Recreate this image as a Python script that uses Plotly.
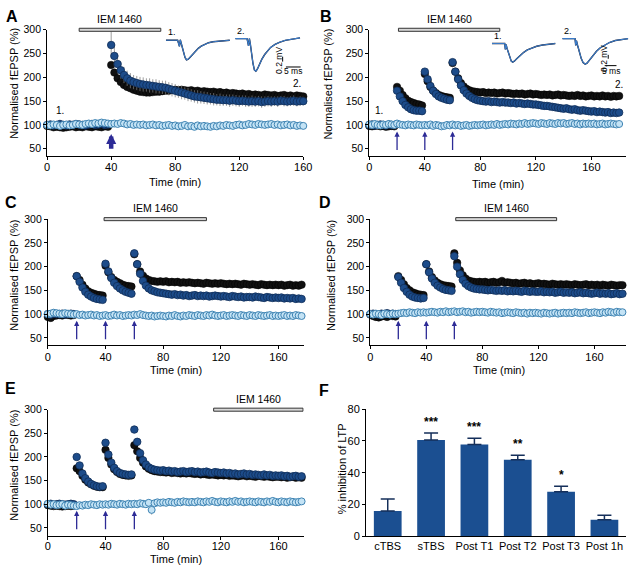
import plotly.graph_objects as go

W, H = 640, 574
FONT = "Liberation Sans, Arial, Helvetica, sans-serif"

# ------------------------------------------------------------------ data
T_A = list(range(0, 161, 2))    # 81 points, panel A
T_BD = list(range(0, 181, 2))   # 91 points, panels B, D
T_CE = list(range(0, 179, 2))   # 90 points, panels C, E

A_BLACK = [98, 97, 95, 96, 95, 94, 95, 96, 97, 95, 96, 95, 97, 96, 95, 97, 96, 95, 97, 96,
           226, 210, 198, 190, 184, 180, 177, 174, 172, 170,
           169, 168, 168, 169, 170, 170, 171, 172, 172, 173,
           174, 173, 174, 173, 172, 173, 171, 172, 170, 171,
           170, 169, 170, 168, 169, 167, 168, 166, 167, 166,
           165, 166, 164, 165, 163, 164, 163, 162, 164, 163,
           162, 163, 161, 162, 163, 161, 162, 160, 162, 161,
           160]
A_BLUE = [100, 101, 99, 100, 102, 100, 99, 101, 100, 102, 101, 100, 99, 101, 102, 100, 101, 103, 100, 101,
          268, 245, 228, 215, 205, 198, 193, 190, 188, 186,
          185, 184, 183, 182, 181, 180, 179, 178, 176, 174,
          172, 170, 168, 166, 164, 162, 160, 159, 158, 157,
          156, 155, 154, 153, 153, 152, 152, 151, 152, 151,
          150, 151, 150, 149, 150, 149, 150, 148, 149, 150,
          149, 150, 149, 151, 150, 149, 150, 151, 149, 150,
          150]
A_BLUE_SEM = [3, 3, 3, 3, 3, 3, 3, 3, 3, 3, 3, 3, 3, 3, 3, 3, 3, 3, 3, 3,
              28, 24, 20, 18, 17, 16, 16, 15, 15, 15,
              15, 14, 15, 14, 15, 14, 14, 15, 14, 14,
              14, 13, 14, 13, 14, 13, 13, 14, 13, 13,
              13, 12, 13, 12, 13, 12, 12, 13, 12, 12,
              12, 11, 12, 11, 12, 11, 11, 12, 11, 11,
              11, 10, 11, 10, 11, 10, 10, 11, 10, 10,
              10]
A_LIGHT = [100, 99, 101, 100, 98, 100, 101, 99, 100, 102,
           101, 100, 102, 103, 102, 104, 103, 105, 104, 103,
           102, 103, 102, 104, 103, 101, 102, 100, 101, 100,
           101, 99, 100, 101, 99, 100, 98, 99, 100, 98,
           99, 97, 98, 100, 97, 98, 96, 99, 97, 98,
           97, 96, 98, 97, 99, 98, 100, 99, 98, 100,
           101, 99, 100, 102, 101, 100, 102, 101, 100, 101,
           102, 100, 101, 99, 100, 101, 99, 100, 98, 99,
           98]

B_BLACK = [98, 97, 98, 99, 97, 98, 96, 97, 98, 97,
           180, 172, 163, 156, 151, 148, 146, 144, 143, 141,
           207, 192, 180, 172, 167, 163, 161, 159, 158, 157,
           230, 212, 198, 188, 181, 176, 173, 171, 170, 169,
           168, 169, 167, 168, 167, 168, 166, 167, 168, 166,
           167, 166, 165, 166, 165, 166, 164, 165, 166, 164,
           165, 164, 163, 164, 163, 164, 162, 163, 164, 162,
           163, 162, 161, 162, 161, 163, 161, 162, 160, 161,
           162, 160, 161, 160, 162, 160, 161, 159, 161, 160,
           161]
B_BLUE = [100, 101, 99, 100, 101, 100, 99, 101, 100, 100,
          172, 160, 150, 142, 137, 133, 131, 130, 130, 129,
          212, 196, 182, 172, 165, 160, 157, 155, 153, 152,
          232, 212, 196, 183, 173, 166, 161, 157, 154, 152,
          151, 150, 149, 150, 148, 149, 148, 147, 148, 147,
          147, 146, 147, 145, 146, 145, 144, 145, 144, 143,
          143, 142, 141, 140, 140, 139, 138, 137, 136, 135,
          134, 135, 133, 132, 133, 131, 130, 131, 130, 129,
          128, 129, 127, 128, 127, 126, 127, 125, 126, 125,
          126]
B_LIGHT = [101, 100, 102, 100, 99, 101, 100, 102, 101, 100,
           103, 101, 100, 99, 101, 100, 99, 101, 100, 99,
           100, 99, 101, 98, 100, 99, 97, 98, 100, 99,
           101, 99, 100, 98, 99, 100, 98, 99, 100, 99,
           100, 101, 99, 100, 101, 100, 102, 100, 101, 102,
           101, 103, 102, 101, 103, 102, 104, 102, 103, 104,
           103, 102, 104, 103, 102, 104, 103, 102, 104, 103,
           104, 102, 103, 104, 102, 103, 101, 103, 102, 103,
           102, 103, 101, 102, 103, 101, 102, 103, 102, 101,
           102]

C_BLACK = [94, 92, 96, 97, 98, 97, 99, 98, 97, 98,
           180, 172, 162, 154, 148, 145, 143, 141, 140, 139,
           202, 188, 178, 172, 168, 165, 162, 160, 159, 158,
           226, 205, 190, 181, 175, 172, 170, 169, 168, 169,
           168, 169, 167, 168, 167, 168, 166, 167, 166, 167,
           166, 165, 166, 165, 164, 166, 165, 164, 165, 164,
           165, 164, 163, 164, 163, 164, 163, 162, 164, 163,
           162, 163, 162, 161, 163, 162, 161, 162, 161, 162,
           161, 162, 160, 161, 162, 160, 161, 160, 162, 161]
C_BLUE = [100, 99, 101, 100, 100, 101, 99, 100, 101, 100,
          180, 168, 156, 147, 141, 137, 134, 132, 131, 130,
          206, 190, 176, 166, 159, 154, 150, 147, 145, 143,
          228, 205, 185, 170, 160, 154, 150, 148, 146, 145,
          144, 143, 142, 141, 142, 140, 141, 139, 140, 138,
          139, 140, 138, 139, 138, 139, 137, 138, 139, 138,
          137, 138, 137, 136, 138, 137, 136, 137, 135, 136,
          136, 135, 137, 136, 135, 134, 136, 135, 134, 135,
          134, 135, 133, 134, 133, 134, 132, 133, 132, 133]
C_LIGHT = [100, 101, 103, 102, 101, 100, 102, 101, 100, 99,
           100, 98, 99, 97, 98, 99, 97, 98, 96, 97,
           98, 96, 97, 99, 97, 98, 96, 97, 98, 97,
           99, 98, 100, 98, 97, 96, 97, 95, 96, 97,
           96, 95, 97, 96, 98, 96, 95, 97, 96, 98,
           97, 96, 98, 97, 96, 98, 97, 99, 97, 96,
           97, 98, 96, 97, 98, 97, 96, 98, 97, 96,
           98, 97, 96, 98, 97, 96, 97, 98, 96, 97,
           96, 97, 98, 96, 97, 96, 98, 97, 96, 97]

D_BLACK = [99, 96, 94, 93, 95, 96, 94, 97, 96, 95,
           180, 172, 163, 155, 150, 146, 144, 142, 141, 140,
           205, 190, 178, 171, 166, 163, 161, 160, 159, 158,
           228, 208, 192, 182, 175, 171, 169, 168, 167, 168,
           167, 168, 166, 167, 168, 166, 167, 170, 166, 167,
           166, 165, 166, 164, 165, 166, 164, 165, 163, 164,
           165, 163, 164, 163, 162, 164, 163, 162, 163, 162,
           163, 162, 161, 163, 162, 161, 162, 163, 161, 162,
           161, 162, 160, 162, 161, 160, 162, 161, 160, 161,
           161]
D_BLUE = [100, 101, 100, 99, 101, 100, 102, 100, 101, 100,
          178, 166, 155, 147, 141, 137, 135, 134, 133, 134,
          205, 188, 175, 166, 160, 156, 153, 151, 150, 149,
          222, 200, 184, 172, 164, 159, 156, 154, 153, 152,
          152, 151, 150, 151, 150, 149, 150, 149, 150, 148,
          149, 148, 149, 148, 147, 149, 148, 147, 148, 147,
          147, 148, 146, 147, 146, 147, 145, 146, 147, 145,
          146, 145, 146, 144, 145, 146, 144, 145, 144, 143,
          144, 145, 143, 144, 143, 144, 142, 143, 144, 142,
          143]
D_LIGHT = [100, 99, 101, 100, 98, 101, 100, 99, 101, 100,
           101, 102, 103, 102, 104, 103, 102, 104, 103, 104,
           103, 104, 105, 104, 103, 105, 104, 106, 104, 105,
           106, 104, 105, 106, 104, 105, 103, 104, 105, 104,
           105, 104, 103, 105, 104, 103, 104, 102, 103, 104,
           103, 102, 104, 103, 102, 103, 101, 103, 102, 103,
           102, 101, 103, 102, 101, 102, 103, 101, 102, 103,
           102, 103, 102, 104, 103, 102, 103, 104, 102, 103,
           104, 103, 102, 104, 103, 105, 104, 103, 105, 104,
           104]

E_BLACK = [98, 97, 96, 97, 96, 95, 96, 97, 96, 97,
           176, 170, 160, 152, 146, 142, 139, 137, 136, 136,
           215, 198, 184, 174, 168, 164, 162, 161, 160, 161,
           225, 212, 198, 188, 180, 175, 172, 170, 169, 168,
           168, 167, 168, 166, 167, 166, 165, 166, 165, 166,
           165, 164, 165, 163, 164, 163, 162, 163, 162, 161,
           162, 161, 162, 160, 161, 160, 159, 160, 161, 159,
           160, 159, 158, 160, 159, 158, 159, 158, 157, 158,
           158, 157, 158, 156, 157, 158, 156, 157, 156, 157]
E_BLUE = [100, 101, 99, 100, 101, 100, 99, 100, 101, 100,
          200, 182, 165, 155, 148, 143, 140, 138, 137, 138,
          230, 205, 188, 177, 170, 166, 164, 163, 162, 163,
          258, 232, 208, 193, 184, 178, 175, 173, 172, 171,
          172, 170, 171, 169, 170, 168, 169, 170, 168, 169,
          170, 168, 169, 167, 168, 169, 167, 166, 168, 167,
          166, 167, 165, 166, 164, 165, 163, 164, 165, 163,
          164, 162, 163, 162, 161, 163, 161, 162, 160, 161,
          160, 161, 159, 160, 158, 159, 160, 158, 159, 158]
E_LIGHT = [101, 99, 100, 98, 99, 100, 97, 99, 98, 97,
           96, 98, 97, 99, 98, 100, 99, 98, 100, 99,
           100, 99, 101, 100, 99, 101, 100, 99, 101, 100,
           101, 100, 102, 101, 100, 103, 88, 102, 104, 103,
           104, 103, 105, 104, 103, 105, 104, 106, 105, 104,
           105, 104, 106, 105, 104, 106, 105, 107, 105, 104,
           106, 105, 104, 106, 105, 107, 105, 106, 104, 105,
           106, 105, 104, 106, 105, 104, 106, 105, 107, 105,
           104, 106, 105, 104, 106, 105, 104, 105, 106, 104]
E_LIGHT_SEM = [3, 3, 4, 3, 3, 4, 3, 3, 4, 3,
               3, 4, 3, 3, 4, 3, 3, 4, 3, 3,
               4, 3, 4, 4, 3, 4, 4, 3, 4, 4,
               4, 5, 4, 5, 4, 5, 10, 5, 6, 5,
               6, 5, 7, 6, 5, 7, 6, 8, 6, 5,
               7, 6, 8, 6, 5, 7, 6, 8, 7, 6,
               6, 7, 5, 8, 6, 7, 5, 6, 7, 6,
               7, 6, 5, 7, 6, 8, 6, 7, 5, 6,
               6, 7, 5, 6, 7, 6, 5, 7, 6, 5]

# IEM 1460 application windows (min) and TBS times (min)
IEM_A = (20, 71)
IEM_B = (21, 94)
IEM_C = (39, 110)
IEM_D = (61, 133)
IEM_E = (115, 177)
TBS_A = [40]
TBS_BE = [20, 40, 60]

# Panel F
F_CATS = ["cTBS", "sTBS", "Post T1", "Post T2", "Post T3", "Post 1h"]
F_INHIB = [16, 60.5, 57.8, 48.2, 28, 10.5]
F_SEM = [7.5, 4.5, 3.8, 2.8, 3.5, 2.7]
F_STARS = ["", "***", "***", "**", "*", ""]

# Example fEPSP traces (ms, mV relative to baseline)
A1_T = [0, 2, 4, 4.6, 4.9, 5.2, 5.6, 6.0, 6.5, 7.0, 7.5, 8.0, 9.0, 10.0, 11.0, 12.0, 13.0, 14.5, 16.0, 18.0, 20.0, 21.7]
A1_V = [0, 0, 0, -0.25, 0.02, -0.12, -0.3, -0.5, -0.7, -0.8, -0.78, -0.72, -0.58, -0.45, -0.33, -0.24, -0.17, -0.1, -0.06, -0.03, -0.01, 0.0]
A2_T = [0, 2, 4, 4.5, 4.8, 5.1, 5.5, 6.0, 6.5, 7.0, 7.5, 8.0, 9.0, 10.0, 11.0, 12.0, 13.5, 15.0, 17.0, 19.0, 22.0]
A2_V = [0, 0, 0, -0.3, 0.0, -0.2, -0.6, -1.0, -1.28, -1.33, -1.25, -1.1, -0.85, -0.65, -0.48, -0.36, -0.24, -0.15, -0.07, -0.02, 0.03]
B1_T = [0, 3, 5.4, 5.7, 6.0, 6.4, 7.0, 7.6, 8.2, 8.8, 9.5, 10.5, 12, 13.5, 15, 17, 19, 21.5, 24, 27]
B1_V = [0, 0, 0, -0.3, -0.05, -0.25, -0.5, -0.75, -0.9, -0.95, -0.9, -0.78, -0.6, -0.45, -0.33, -0.22, -0.14, -0.08, -0.03, 0.0]
B2_T = [0, 3, 5.4, 5.7, 6.0, 6.5, 7.2, 8.0, 8.8, 9.7, 10.5, 11.5, 13, 14.5, 16, 18, 20, 22.5, 25, 28]
B2_V = [0, 0, 0, -0.35, -0.1, -0.35, -0.7, -1.0, -1.22, -1.3, -1.25, -1.1, -0.85, -0.65, -0.48, -0.32, -0.2, -0.1, -0.04, 0.0]
SCALE_MS = 5
SCALE_MV = 0.2

# ------------------------------------------------------------------ styles
C_BLACK_M = "#111111"
C_BLUE_M = "#1d4c8a"
C_BLUE_EDGE = "#0f2d58"
C_LIGHT_FILL = "#c4e3f5"
C_LIGHT_EDGE = "#3f84b3"
C_ARROW = "#2d2b96"
C_BAR = "#1b4f91"


def dx(a, b):
    return [a / W, b / W]


def dy(top, bottom):
    return [1 - bottom / H, 1 - top / H]


fig = go.Figure()


def add_series(t, vals, ax, kind, sem=None):
    if kind == "black":
        marker = dict(size=7.5, color=C_BLACK_M, line=dict(width=0.5, color="#000"))
    elif kind == "blue":
        marker = dict(size=7.5, color=C_BLUE_M, line=dict(width=0.8, color=C_BLUE_EDGE))
    else:
        marker = dict(size=7, color=C_LIGHT_FILL, line=dict(width=1, color=C_LIGHT_EDGE))
    err = None
    if sem is not None:
        err = dict(type="data", array=sem, color="rgba(125,125,125,0.75)", thickness=1, width=0)
    fig.add_trace(go.Scatter(x=t, y=vals, mode="markers", marker=marker, error_y=err,
                             xaxis="x" + ax, yaxis="y" + ax, cliponaxis=False,
                             showlegend=False, hoverinfo="skip"))


# Panel A
add_series(T_A, A_BLACK, "", "black")
add_series(T_A, A_BLUE, "", "blue", A_BLUE_SEM)
add_series(T_A, A_LIGHT, "", "light")
# Panel B
add_series(T_BD, B_BLACK, "2", "black")
add_series(T_BD, B_BLUE, "2", "blue")
add_series(T_BD, B_LIGHT, "2", "light")
# Panel C
add_series(T_CE, C_BLACK, "3", "black")
add_series(T_CE, C_BLUE, "3", "blue")
add_series(T_CE, C_LIGHT, "3", "light")
# Panel D
add_series(T_BD, D_BLACK, "4", "black")
add_series(T_BD, D_BLUE, "4", "blue")
add_series(T_BD, D_LIGHT, "4", "light")
# Panel E
add_series(T_CE, E_BLACK, "5", "black")
add_series(T_CE, E_BLUE, "5", "blue")
add_series(T_CE, E_LIGHT, "5", "light", E_LIGHT_SEM)

# Panel F
fig.add_trace(go.Bar(x=F_CATS, y=F_INHIB, xaxis="x6", yaxis="y6",
                     marker=dict(color=C_BAR, line=dict(width=0)),
                     error_y=dict(type="data", array=F_SEM, arrayminus=[0] * len(F_SEM),
                                  symmetric=False, color="#152f5a", thickness=1.5, width=7),
                     showlegend=False, hoverinfo="skip"))

# Inset traces
for tt, vv, ax in [(A1_T, A1_V, "7"), (A2_T, A2_V, "8"), (B1_T, B1_V, "9"), (B2_T, B2_V, "10")]:
    fig.add_trace(go.Scatter(x=tt, y=vv, mode="lines", line=dict(color="#1a1a2a", width=1.4),
                             xaxis="x" + ax, yaxis="y" + ax, showlegend=False, hoverinfo="skip"))
    fig.add_trace(go.Scatter(x=tt, y=vv, mode="lines", line=dict(color="#3a7bc8", width=1.1),
                             xaxis="x" + ax, yaxis="y" + ax, showlegend=False, hoverinfo="skip"))

# ------------------------------------------------------------------ axes
tickfont_x = dict(size=11, family=FONT, color="black")
tickfont_y = dict(size=10.5, family=FONT, color="black")
base = dict(showline=True, linecolor="black", linewidth=1, ticks="outside", ticklen=3,
            tickwidth=1, tickcolor="black", showgrid=False, zeroline=False, fixedrange=True)

panels = [
    # suffix, xdom px, ydom px (top,bottom), xrange, yrange, x-label standoff
    ("", (45, 306), (24.3, 153.3), [0, 160], [34.5, 300], -2),
    ("2", (373.3, 635), (24.3, 153.3), [0, 185], [34.5, 300], -2),
    ("3", (45.7, 306.5), (217.7, 346.7), [0, 177.5], [34, 300], -2),
    ("4", (374.3, 635), (217.7, 346.7), [0, 182.6], [34, 300], -2),
    ("5", (45.7, 306.5), (412.3, 541.7), [0, 177.5], [32, 300], -4),
]
lay = {}
for suf, xd, yd, xr, yr, so in panels:
    n = suf if suf else ""
    lay["xaxis" + n] = dict(base, domain=dx(*xd), range=xr, anchor="y" + n,
                            tickvals=[0, 40, 80, 120, 160], tickfont=tickfont_x,
                            ticklabelstandoff=so)
    lay["yaxis" + n] = dict(base, domain=dy(*yd), range=yr, anchor="x" + n,
                            tickvals=[50, 100, 150, 200, 250, 300], tickfont=tickfont_y)

lay["xaxis6"] = dict(base, domain=dx(370, 635), anchor="y6", type="category", ticks="",
                     tickfont=tickfont_x, ticklabelstandoff=-1)
lay["yaxis6"] = dict(base, domain=dy(411.7, 541.7), range=[0, 80], anchor="x6",
                     tickvals=[0, 20, 40, 60, 80], tickfont=tickfont_x)

insets = [
    ("7", (166, 232), (30, 75), [0, 22], [-1.6, 0.2]),
    ("8", (236.7, 305.7), (28.3, 73.3), [0, 23], [-1.6, 0.2]),
    ("9", (498.3, 563.1), (34.3, 74.3), [0, 27], [-1.8, 0.2]),
    ("10", (570, 637.2), (29.3, 69.3), [0, 28], [-1.8, 0.2]),
]
for suf, xd, yd, xr, yr in insets:
    lay["xaxis" + suf] = dict(domain=dx(*xd), range=xr, anchor="y" + suf, visible=False, fixedrange=True)
    lay["yaxis" + suf] = dict(domain=dy(*yd), range=yr, anchor="x" + suf, visible=False, fixedrange=True)

# ------------------------------------------------------------------ annotations & shapes
ann = []
shapes = []


def txt(text, x, y, size=11, bold=False, xref="paper", yref="paper", xanchor="center",
        yanchor="middle", angle=0, **kw):
    t = "<b>%s</b>" % text if bold else text
    d = dict(text=t, x=x, y=y, xref=xref, yref=yref, xanchor=xanchor, yanchor=yanchor,
             showarrow=False, textangle=angle, font=dict(size=size, family=FONT, color="black"))
    d.update(kw)
    ann.append(d)


# panel letters
for letter, px, py in [("A", 1, 0), ("B", 321, 0), ("C", 0, 190), ("D", 320, 190), ("E", 0, 380), ("F", 320, 382)]:
    txt(letter, px / W, 1 - py / H, size=16, bold=True, xanchor="left", yanchor="top")

# axis titles
for px, py in [(11.7, 79), (331.5, 80), (11.7, 275), (335, 275), (11.7, 469)]:
    txt("Normalised fEPSP (%)", px / W, 1 - py / H, size=11, angle=-90)
txt("% inhibition of LTP", 345 / W, 1 - 472.6 / H, size=11, angle=-90)
for px, py in [(175.5, 180), (504, 181.7), (176, 371.7), (505, 371.7), (176, 565)]:
    txt("Time (min)", px / W, 1 - py / H, size=11)

# IEM 1460 bars
for suf, (a, b) in [("", IEM_A), ("2", IEM_B), ("3", IEM_C), ("4", IEM_D), ("5", IEM_E)]:
    shapes.append(dict(type="rect", xref="x" + suf, yref="y%s domain" % suf, x0=a, x1=b,
                       y0=0.988, y1=1.012, fillcolor="#d8d8d8",
                       line=dict(color="#333333", width=1)))
    txt("IEM 1460", (a + b) / 2, 1, size=10.5, xref="x" + suf, yref="y%s domain" % suf,
        yanchor="bottom", yshift=3)

# TBS arrows
for t in TBS_A:
    ann.append(dict(x=t, y=81, ax=t, ay=47, xref="x", yref="y", axref="x", ayref="y",
                    showarrow=True, arrowhead=2, arrowsize=0.45, arrowwidth=4.5,
                    arrowcolor=C_ARROW, text=""))
for suf in ["2", "3", "4", "5"]:
    for t in TBS_BE:
        ann.append(dict(x=t, y=86, ax=t, ay=44, xref="x" + suf, yref="y" + suf,
                        axref="x" + suf, ayref="y" + suf, showarrow=True, arrowhead=2,
                        arrowsize=0.8, arrowwidth=1.3, arrowcolor=C_ARROW, text=""))

# "1." / "2." time markers
txt("1.", 8, 130, size=10, xref="x", yref="y")
txt("2.", 156, 187, size=10, xref="x", yref="y")
txt("1.", 7, 130, size=10, xref="x2", yref="y2")
txt("2.", 180, 185, size=10, xref="x2", yref="y2")
for suf in ["7", "8", "9", "10"]:
    txt("1." if suf in ("7", "9") else "2.", 0, 0, size=9, xref="x" + suf, yref="y" + suf,
        xanchor="left", yanchor="bottom", yshift=1)

# scale bars
for suf, xv, xh0, yv0, yh, tx, ty, mx, my in [
        ("8", 16.1, 17.2, -0.94, -1.16, 14.6, -0.9, 19.7, -1.34),
        ("10", 19.5, 18.0, -1.03, -1.38, 17.6, -1.0, 20.5, -1.68)]:
    shapes.append(dict(type="line", xref="x" + suf, yref="y" + suf, x0=xv, x1=xv,
                       y0=yv0, y1=yv0 + SCALE_MV, line=dict(color="black", width=1)))
    shapes.append(dict(type="line", xref="x" + suf, yref="y" + suf, x0=xh0, x1=xh0 + SCALE_MS,
                       y0=yh, y1=yh, line=dict(color="black", width=1)))
    txt("0.2 mV", tx, ty, size=8.5, xref="x" + suf, yref="y" + suf, angle=-90)
    txt("5 ms", mx, my, size=8.5, xref="x" + suf, yref="y" + suf)

# significance stars
for c, v, s, st in zip(F_CATS, F_INHIB, F_SEM, F_STARS):
    if st:
        txt(st, c, v + s, size=12, bold=True, xref="x6", yref="y6", yanchor="bottom", yshift=2)

fig.update_layout(
    width=W, height=H, margin=dict(l=0, r=0, t=0, b=0),
    paper_bgcolor="white", plot_bgcolor="white", showlegend=False,
    font=dict(family=FONT, size=11, color="black"),
    bargap=0.36, annotations=ann, shapes=shapes, **lay)

fig.write_html("out.html", config={"displayModeBar": False},
               post_script="document.body.style.margin='0';document.body.style.overflow='hidden';")
